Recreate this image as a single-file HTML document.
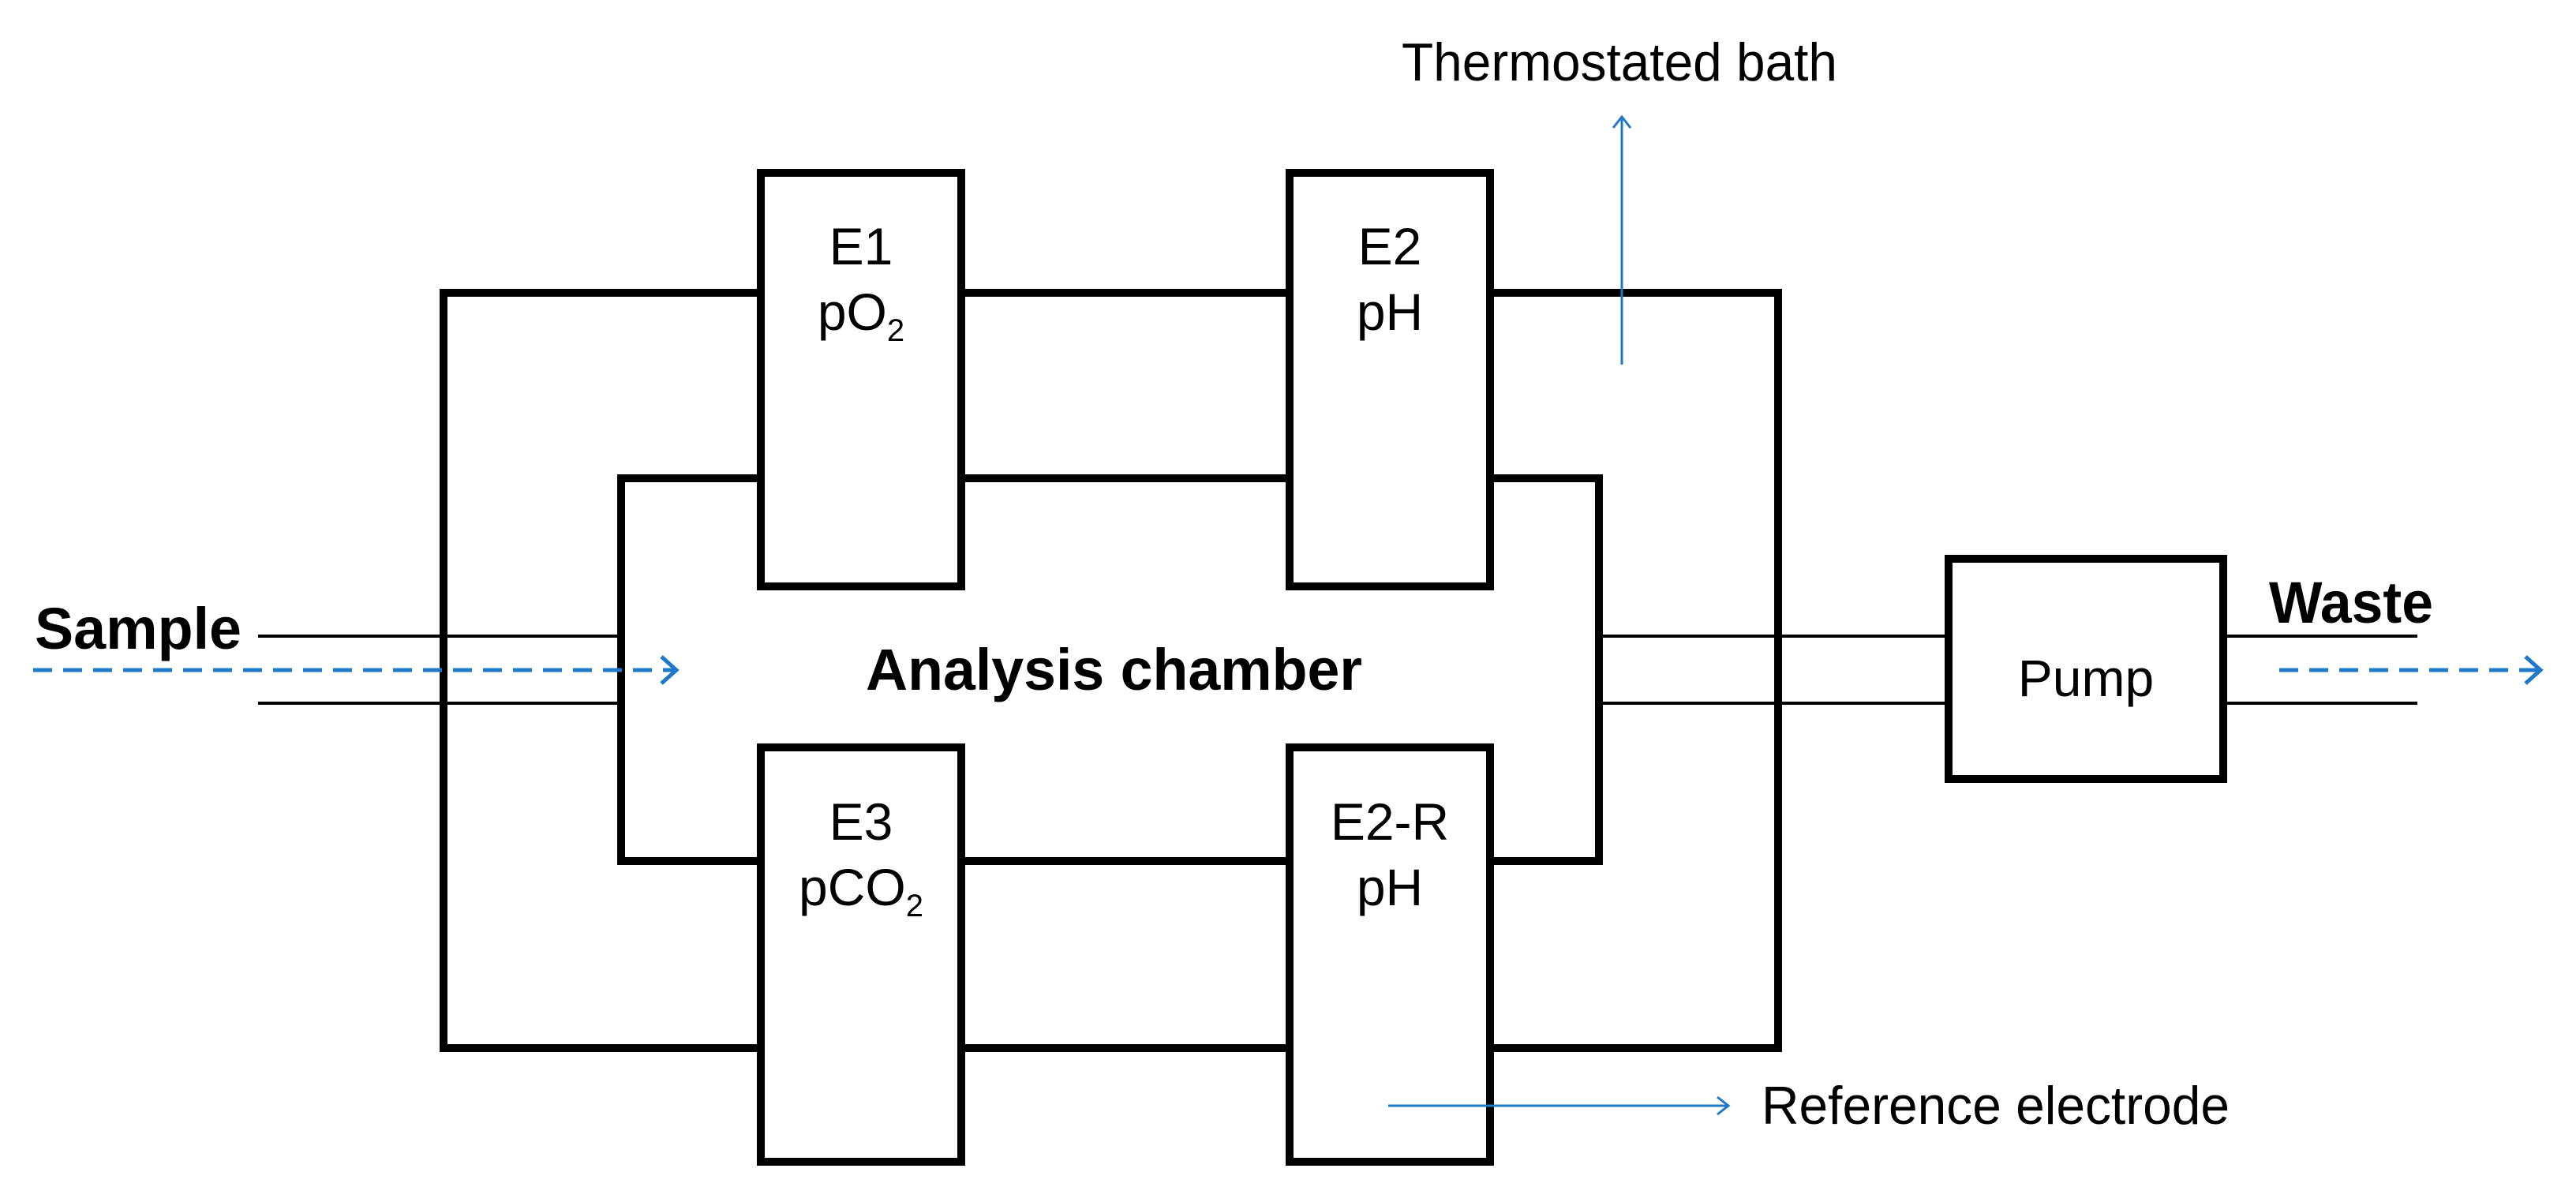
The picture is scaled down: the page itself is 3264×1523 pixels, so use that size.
<!DOCTYPE html>
<html><head><meta charset="utf-8"><style>html,body{margin:0;padding:0;background:#fff}svg{display:block}</style></head>
<body>
<svg width="3264" height="1523" viewBox="0 0 3264 1523" xmlns="http://www.w3.org/2000/svg" font-family="'Liberation Sans', Arial, sans-serif">
<g fill="none" stroke="#000" stroke-width="10">
<rect x="562" y="371" width="1691" height="957"/>
<rect x="787" y="606" width="1239" height="485"/>
</g>
<g stroke="#000" stroke-width="4">
<line x1="327" y1="806" x2="787" y2="806"/>
<line x1="327" y1="891" x2="787" y2="891"/>
<line x1="2026" y1="806" x2="2469" y2="806"/>
<line x1="2026" y1="891" x2="2469" y2="891"/>
<line x1="2817" y1="806" x2="3063" y2="806"/>
<line x1="2817" y1="891" x2="3063" y2="891"/>
</g>
<g fill="#fff" stroke="#000" stroke-width="10">
<rect x="964" y="219" width="254" height="524"/>
<rect x="1634" y="219" width="254" height="524"/>
<rect x="964" y="947" width="254" height="525"/>
<rect x="1634" y="947" width="254" height="525"/>
<rect x="2469" y="708" width="348" height="279"/>
</g>
<g stroke="#1f78c8" fill="none">
<line x1="42" y1="849" x2="855" y2="849" stroke-width="5" stroke-dasharray="24,14"/>
<polyline points="838,832 857,849 838,866" stroke-width="5"/>
<line x1="2888" y1="849" x2="3215" y2="849" stroke-width="5" stroke-dasharray="24,14"/>
<polyline points="3200,832 3219,849 3200,866" stroke-width="5"/>
<line x1="2055" y1="150" x2="2055" y2="462" stroke-width="3"/>
<polyline points="2044,162 2055,148 2066,162" stroke-width="3"/>
<line x1="1759" y1="1401" x2="2188" y2="1401" stroke-width="3"/>
<polyline points="2176,1390 2190,1401 2176,1412" stroke-width="3"/>
</g>
<g fill="#000" font-size="66" text-anchor="middle">
<text x="1091" y="335">E1</text>
<text x="1091" y="418">pO<tspan font-size="40" dy="14">2</tspan></text>
<text x="1761" y="335">E2</text>
<text x="1761" y="418">pH</text>
<text x="1091" y="1064">E3</text>
<text x="1091" y="1147">pCO<tspan font-size="40" dy="14">2</tspan></text>
<text x="1761" y="1064">E2-R</text>
<text x="1761" y="1147">pH</text>
<text x="2643" y="882">Pump</text>
</g>
<g fill="#000" font-size="68">
<text x="1776" y="102" textLength="552" lengthAdjust="spacingAndGlyphs">Thermostated bath</text>
<text x="2232" y="1424" textLength="593" lengthAdjust="spacingAndGlyphs">Reference electrode</text>
</g>
<g fill="#000" font-size="74" font-weight="bold">
<text x="44" y="822" textLength="262" lengthAdjust="spacingAndGlyphs">Sample</text>
<text x="2875" y="789" textLength="208" lengthAdjust="spacingAndGlyphs">Waste</text>
<text x="1097" y="874" textLength="629" lengthAdjust="spacingAndGlyphs">Analysis chamber</text>
</g>
</svg>
</body></html>
